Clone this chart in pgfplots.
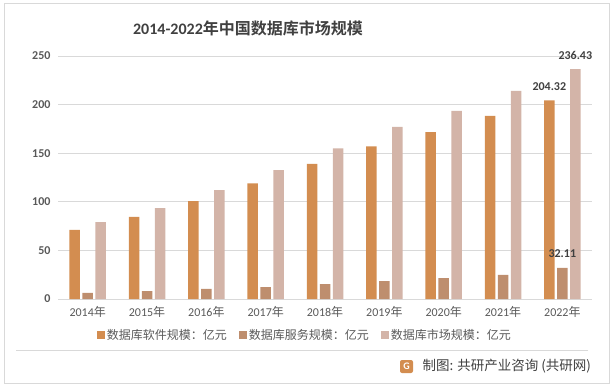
\documentclass[border=0pt]{standalone}
\usepackage{pgfplots}
\pgfplotsset{compat=1.18}
\usepackage{fontspec}
\setmainfont{Carlito}
\newfontfamily\cjk{Noto Sans CJK SC}[BoldFont={Noto Sans CJK SC Bold}]
\definecolor{soft}{RGB}{211,141,80}
\definecolor{serv}{RGB}{190,142,110}
\definecolor{mark}{RGB}{211,180,168}
\definecolor{gridc}{RGB}{217,217,217}
\definecolor{txt}{RGB}{64,64,64}
\definecolor{txtl}{RGB}{89,89,89}
\pgfplotstableread{
x soft serv mark
0 71.0 6.2 79.0
1 84.5 8.2 93.6
2 100.8 10.3 112.0
3 119.0 12.3 132.5
4 139.0 15.4 155.0
5 157.0 18.5 177.0
6 171.8 21.6 193.5
7 188.3 24.7 214.0
8 204.32 32.11 236.43
}\datatab
\begin{document}
\begin{tikzpicture}[x=1bp,y=1bp]
\useasboundingbox (0,0) rectangle (615,390);
\draw[gridc,line width=0.8bp] (4,7) rectangle (609,387);
\node[txt,font=\fontsize{16bp}{19bp}\selectfont\bfseries] at (248,362) {2014-2022\cjk 年中国数据库市场规模};
\begin{axis}[
  at={(58bp,91bp)}, anchor=south west,
  scale only axis, width=534bp, height=243bp,
  xmin=-0.5, xmax=8.5, ymin=0, ymax=250,
  clip=false,
  ybar=2.5bp, bar width=10.5bp,
  xtick={0,...,8},
  xticklabels={2014{\cjk 年},2015{\cjk 年},2016{\cjk 年},2017{\cjk 年},2018{\cjk 年},2019{\cjk 年},2020{\cjk 年},2021{\cjk 年},2022{\cjk 年}},
  ytick={0,50,...,250},
  ymajorgrids, grid style={gridc,line width=0.8bp},
  major tick length=0pt,
  axis x line*=bottom, axis y line*=left,
  x axis line style={gridc,line width=0.8bp,-},
  y axis line style={draw=none},
  /pgf/number format/assume math mode=true,
  ticklabel style={txtl,font=\fontsize{12bp}{14bp}\selectfont},
  yticklabel style={font=\fontsize{12bp}{14bp}\selectfont\bfseries, xshift=-4bp},
  xticklabel style={yshift=-4bp, font=\fontsize{12bp}{14bp}\selectfont},
  legend columns=3,
  legend style={draw=none, fill=none, at={(0.4625,-0.148)}, anchor=center,
    font=\fontsize{12bp}{14bp}\selectfont\cjk, text=txtl,
    /tikz/every even column/.append style={column sep=10bp}},
  legend image code/.code={\fill[#1,draw=none] (0bp,-4bp) rectangle (8bp,4bp);},
]
\addplot[fill=soft,draw=none] table[x=x,y=soft]{\datatab};
\addplot[fill=serv,draw=none] table[x=x,y=serv]{\datatab};
\addplot[fill=mark,draw=none] table[x=x,y=mark]{\datatab};
\legend{数据库软件规模：亿元,数据库服务规模：亿元,数据库市场规模：亿元}
\node[txt,font=\fontsize{12bp}{14bp}\selectfont\bfseries] at (axis cs:8,204.32) [xshift=-13bp,yshift=14bp] {204.32};
\node[txt,font=\fontsize{12bp}{14bp}\selectfont\bfseries] at (axis cs:8,32.11) [yshift=14bp] {32.11};
\node[txt,font=\fontsize{12bp}{14bp}\selectfont\bfseries] at (axis cs:8,236.43) [xshift=13bp,yshift=14bp] {236.43};
\end{axis}
\draw[gridc,line width=0.8bp] (16,40) -- (588,40);
\fill[soft,rounded corners=2bp] (400,17) rectangle (413,30);
\node[white,font=\fontsize{10bp}{12bp}\selectfont\bfseries] at (406.5,23.5) {G};
\node[txt,anchor=west,font=\fontsize{13.5bp}{15bp}\selectfont\cjk] at (419,24) {制图: 共研产业咨询 (共研网)};
\end{tikzpicture}
\end{document}
